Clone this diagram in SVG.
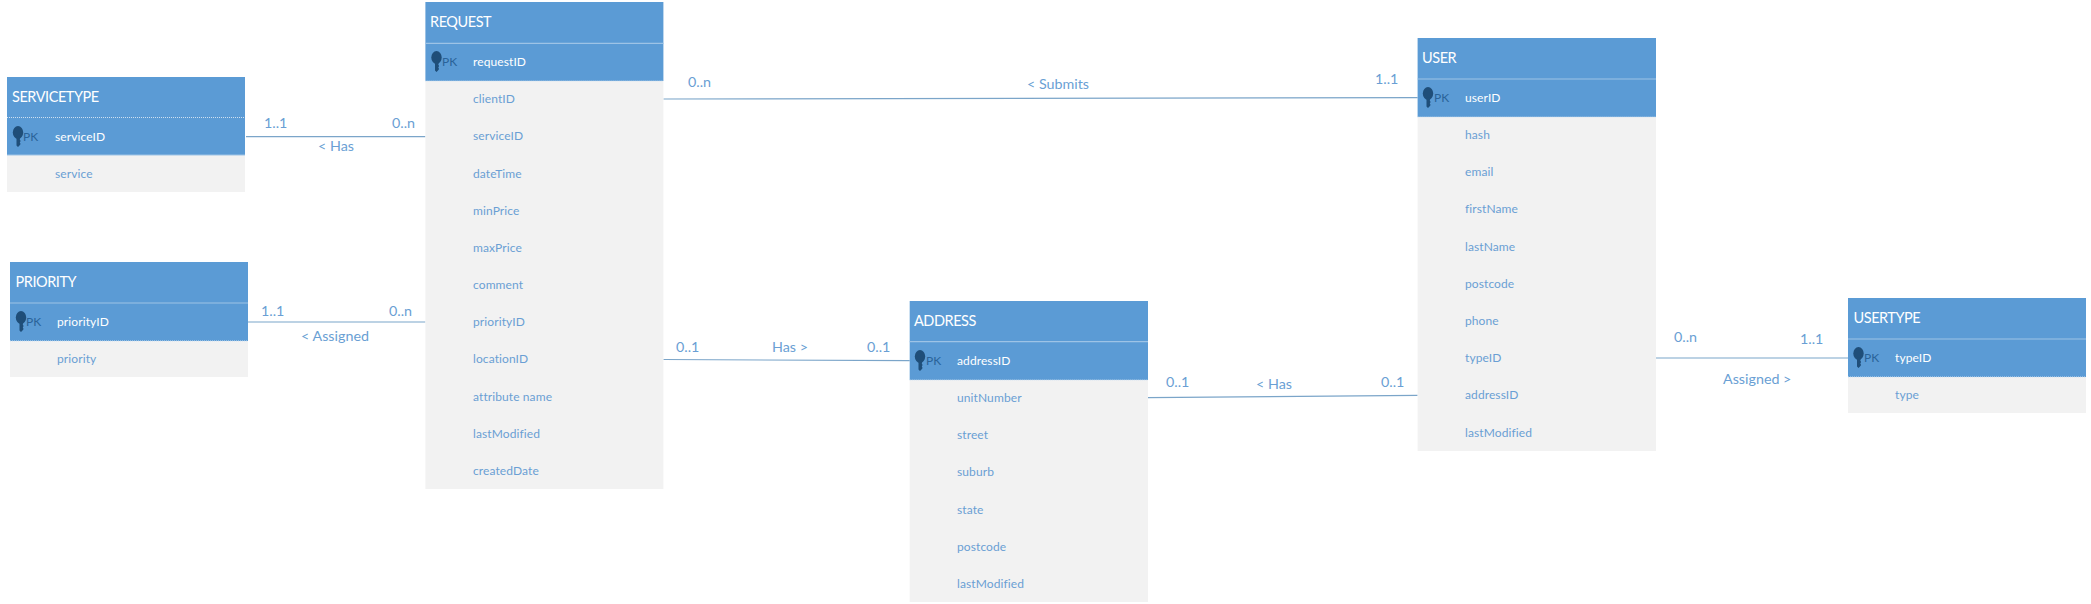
<svg xmlns="http://www.w3.org/2000/svg" width="2091" height="604" viewBox="0 0 2091 604">
<style>
text{font-family:"Lato","Liberation Sans",sans-serif;dominant-baseline:central;transform:translateY(-.8px)}
.h{fill:#5b9bd5}.b{fill:#f2f2f2}
.sep{stroke:#9dc3e6;stroke-width:1.2;fill:none}
.dot{stroke:#cfe0f0;stroke-width:1;stroke-dasharray:1 1;fill:none}
.t{font-size:14.5px;letter-spacing:-.45px;fill:#fff}
.pk{font-size:12px;fill:#2a6399}
.ka{font-size:12px;letter-spacing:.1px;fill:#fff}
.a{font-size:12px;letter-spacing:.1px;fill:#6a9fd4}
.l{font-size:14.300px;fill:#6a9fd4}
.c{stroke:#7ba5c9;stroke-width:1.2;fill:none}
.key{fill:#1f4e79}
</style>
<defs>
<g id="k"><ellipse cx="0" cy="-3" rx="5.200" ry="6.500" class="key"/><path d="M-2.500 1H2.500L1.800 4L2.600 5.500L1.800 7L2.600 8.500L1.500 10L0 11.500L-1.500 10V1Z" class="key"/></g>
</defs>
<g id="connectors">
<path class="c" d="M246 136.700H425.400"/>
<path class="c" d="M248 322H425.400"/>
<path class="c" d="M663.400 99L1417.600 97.700"/>
<path class="c" d="M663.400 359.500L909.700 360.700"/>
<path class="c" d="M1148 397.700L1417.600 395.300"/>
<path class="c" d="M1656 358H1848"/>
</g>
<g id="labels">
<text class="l" x="264" y="123">1..1</text><text class="l" x="392" y="123">0..n</text><text class="l" x="318" y="146">&lt; Has</text>
<text class="l" x="261" y="311">1..1</text><text class="l" x="389" y="311">0..n</text><text class="l" x="301" y="336">&lt; Assigned</text>
<text class="l" x="688" y="82">0..n</text><text class="l" x="1027" y="84">&lt; Submits</text><text class="l" x="1375" y="79">1..1</text>
<text class="l" x="676" y="347">0..1</text><text class="l" x="772" y="347">Has &gt;</text><text class="l" x="867" y="347">0..1</text>
<text class="l" x="1166" y="382">0..1</text><text class="l" x="1256" y="384">&lt; Has</text><text class="l" x="1381" y="382">0..1</text>
<text class="l" x="1674" y="337">0..n</text><text class="l" x="1800" y="339">1..1</text><text class="l" x="1723" y="379">Assigned &gt;</text>
</g>
<g id="servicetype">
<rect class="h" x="7" y="77" width="238" height="78"/><rect class="b" x="7" y="155" width="238" height="37"/>
<path class="dot" d="M7 117.500H245"/><path class="sep" d="M7 155H245"/>
<text class="t" x="12" y="97">SERVICETYPE</text><use href="#k" x="18" y="135.500"/><text class="pk" x="23" y="137">PK</text>
<text class="ka" x="55" y="137">serviceID</text><text class="a" x="55" y="174">service</text>
</g>
<g id="priority">
<rect class="h" x="10" y="262" width="238" height="79"/><rect class="b" x="10" y="341" width="238" height="36"/>
<path class="sep" d="M10 303H248"/><path class="dot" d="M10 341H248"/>
<text class="t" x="15.500" y="282">PRIORITY</text><use href="#k" x="21" y="320.500"/><text class="pk" x="26" y="322">PK</text>
<text class="ka" x="57" y="322">priorityID</text><text class="a" x="57" y="359">priority</text>
</g>
<g id="request">
<rect class="h" x="425.400" y="2" width="238" height="79"/><rect class="b" x="425.400" y="81" width="238" height="408"/>
<path class="sep" d="M425.400 43.300H663.400"/><path class="dot" d="M425.400 81H663.400"/>
<text class="t" x="430" y="22">REQUEST</text><use href="#k" x="436.500" y="60.500"/><text class="pk" x="442" y="62">PK</text>
<text class="ka" x="473" y="62">requestID</text>
<text class="a" x="473" y="99">clientID</text><text class="a" x="473" y="136">serviceID</text><text class="a" x="473" y="174">dateTime</text><text class="a" x="473" y="211">minPrice</text><text class="a" x="473" y="248">maxPrice</text><text class="a" x="473" y="285">comment</text><text class="a" x="473" y="322">priorityID</text><text class="a" x="473" y="359">locationID</text><text class="a" x="473" y="397">attribute name</text><text class="a" x="473" y="434">lastModified</text><text class="a" x="473" y="471">createdDate</text>
</g>
<g id="address">
<rect class="h" x="909.700" y="301" width="238.300" height="79"/><rect class="b" x="909.700" y="380" width="238.300" height="222"/>
<path class="sep" d="M909.700 341.700H1148"/><path class="dot" d="M909.700 380H1148"/>
<text class="t" x="914" y="321">ADDRESS</text><use href="#k" x="920" y="359.500"/><text class="pk" x="926" y="361">PK</text>
<text class="ka" x="957" y="361">addressID</text>
<text class="a" x="957" y="398">unitNumber</text><text class="a" x="957" y="435">street</text><text class="a" x="957" y="472">suburb</text><text class="a" x="957" y="510">state</text><text class="a" x="957" y="547">postcode</text><text class="a" x="957" y="584">lastModified</text>
</g>
<g id="user">
<rect class="h" x="1417.600" y="38" width="238.400" height="79"/><rect class="b" x="1417.600" y="117" width="238.400" height="334"/>
<path class="sep" d="M1417.600 79H1656"/><path class="dot" d="M1417.600 117H1656"/>
<text class="t" x="1422" y="58">USER</text><use href="#k" x="1428" y="96.500"/><text class="pk" x="1434" y="98">PK</text>
<text class="ka" x="1465" y="98">userID</text>
<text class="a" x="1465" y="135">hash</text><text class="a" x="1465" y="172">email</text><text class="a" x="1465" y="209">firstName</text><text class="a" x="1465" y="247">lastName</text><text class="a" x="1465" y="284">postcode</text><text class="a" x="1465" y="321">phone</text><text class="a" x="1465" y="358">typeID</text><text class="a" x="1465" y="395">addressID</text><text class="a" x="1465" y="433">lastModified</text>
</g>
<g id="usertype">
<rect class="h" x="1848" y="298" width="238" height="79"/><rect class="b" x="1848" y="377" width="238" height="36"/>
<path class="sep" d="M1848 339H2086"/><path class="dot" d="M1848 377H2086"/>
<text class="t" x="1853.500" y="318">USERTYPE</text><use href="#k" x="1858.500" y="356.500"/><text class="pk" x="1864" y="358">PK</text>
<text class="ka" x="1895" y="358">typeID</text><text class="a" x="1895" y="395">type</text>
</g>
</svg>
